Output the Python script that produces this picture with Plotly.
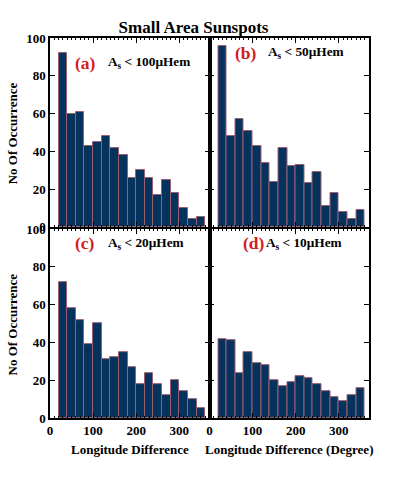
import plotly.graph_objects as go
from plotly.subplots import make_subplots

# bin centres (degrees), 20-degree bins from 20 to 360
bin_centers = [30, 50, 70, 90, 110, 130, 150, 170, 190, 210, 230, 250, 270, 290, 310, 330, 350]

counts_a = [92, 60, 61, 43, 45, 48, 42, 38, 26, 30, 26, 17, 25, 18, 10, 4, 5]
counts_b = [96, 48, 57, 51, 43, 34, 24, 42, 32, 33, 23, 29, 11, 18, 8, 4, 9]
counts_c = [72, 58, 52, 39, 50, 31, 32, 35, 27, 18, 24, 18, 12, 20, 14, 10, 5]
counts_d = [42, 41, 24, 35, 29, 28, 20, 17, 19, 22, 21, 18, 14, 11, 9, 12, 16]

panel_tags = ["(a)", "(b)", "(c)", "(d)"]
panel_labels = ["A<sub>s</sub> &lt; 100μHem", "A<sub>s</sub> &lt; 50μHem",
                "A<sub>s</sub> &lt; 20μHem", "A<sub>s</sub> &lt; 10μHem"]

FONT = "Liberation Serif"
BAR_FILL = "#06335e"
BAR_EDGE = "#9a6070"
RED = "#d01c1c"

fig = make_subplots(rows=2, cols=2, horizontal_spacing=0, vertical_spacing=0.006)

series = [counts_a, counts_b, counts_c, counts_d]
cells = [(1, 1), (1, 2), (2, 1), (2, 2)]
for vals, (r, c) in zip(series, cells):
    fig.add_trace(
        go.Bar(
            x=bin_centers, y=vals, width=20,
            marker=dict(color=BAR_FILL, line=dict(color=BAR_EDGE, width=1)),
            showlegend=False,
        ),
        row=r, col=c,
    )

tick_font = dict(family=FONT, size=13, color="black", weight="bold")

for r, c in cells:
    fig.update_xaxes(
        range=[0, 370], tickvals=[0, 100, 200, 300],
        ticks="inside", ticklen=5, tickwidth=1, tickcolor="black",
        minor=dict(ticks="inside", dtick=10, ticklen=2, tickcolor="black"),
        showline=True, linecolor="black", linewidth=1.5, mirror="ticks",
        showgrid=False, zeroline=False,
        showticklabels=(r == 2), tickfont=tick_font,
        row=r, col=c,
    )
    fig.update_yaxes(
        range=[0, 100], dtick=20,
        ticks="inside", ticklen=5, tickwidth=1, tickcolor="black",
        showline=True, linecolor="black", linewidth=1.5, mirror="ticks",
        showgrid=False, zeroline=False,
        showticklabels=(c == 1), tickfont=tick_font,
        row=r, col=c,
    )

# panel tags and labels (positions in each axis' domain)
tag_pos = [(0.225, 0.87), (0.23, 0.921), (0.222, 0.926), (0.28, 0.926)]
label_x = [0.353, 0.354, 0.353, 0.342]
axis_ids = ["", "2", "3", "4"]
for i, ax in enumerate(axis_ids):
    tx, ty = tag_pos[i]
    fig.add_annotation(
        text=f"<b>{panel_tags[i]}</b>", xref=f"x{ax} domain", yref=f"y{ax} domain",
        x=tx, y=ty, showarrow=False, xanchor="center", yanchor="middle",
        font=dict(family=FONT, size=17.5, color=RED),
    )
    fig.add_annotation(
        text=f"<b>{panel_labels[i]}</b>", xref=f"x{ax} domain", yref=f"y{ax} domain",
        x=label_x[i], y=ty, showarrow=False, xanchor="left", yanchor="middle",
        font=dict(family=FONT, size=13.3, color="black"),
    )

# axis titles
for y in (0.75, 0.247):
    fig.add_annotation(
        text="<b>No Of Occurrence</b>", xref="paper", yref="paper",
        x=-0.118, y=y, showarrow=False, textangle=-90,
        xanchor="center", yanchor="middle",
        font=dict(family=FONT, size=13, color="black"),
    )
fig.add_annotation(
    text="<b>Longitude Difference</b>", xref="paper", yref="paper",
    x=0.25, y=-0.084, showarrow=False, xanchor="center", yanchor="middle",
    font=dict(family=FONT, size=13, color="black"),
)
fig.add_annotation(
    text="<b>Longitude Difference (Degree)</b>", xref="paper", yref="paper",
    x=0.75, y=-0.084, showarrow=False, xanchor="center", yanchor="middle",
    font=dict(family=FONT, size=13, color="black"),
)

fig.update_layout(
    width=399, height=478,
    margin=dict(l=49.5, r=30, t=38, b=60),
    title=dict(text="<b>Small Area Sunspots</b>", x=0.485, xref="container",
               y=0.944, yref="container", xanchor="center", yanchor="middle",
               font=dict(family=FONT, size=17, color="black")),
    bargap=0,
    plot_bgcolor="white", paper_bgcolor="white",
    font=dict(family=FONT, color="black"),
)

# drop the page's default body margin so the figure fills the window exactly
fig.write_html("out.html", config={"displayModeBar": False},
               post_script="document.body.style.margin = '0px';")
